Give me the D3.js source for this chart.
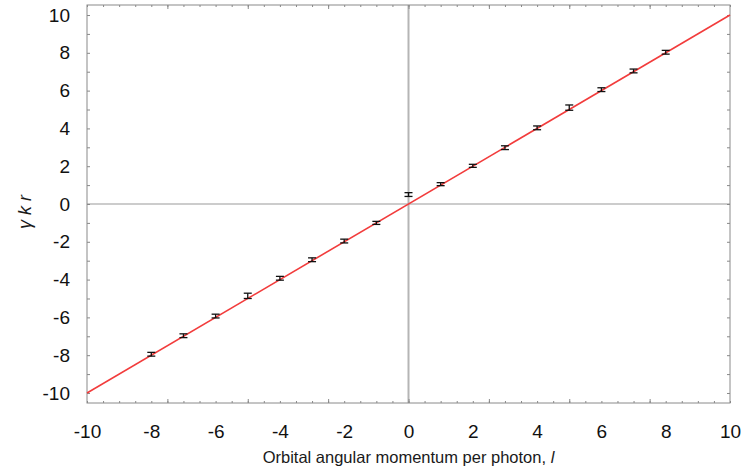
<!DOCTYPE html>
<html>
<head>
<meta charset="utf-8">
<script src="https://cdn.jsdelivr.net/npm/d3@7"></script>
<style>
  body { margin: 0; background: #fff; }
  svg { display: block; font-family: "Liberation Sans", Arial, sans-serif; }
  .lbl text { font-size: 19px; fill: #111; }
  .tk line { stroke: #888; }
  .tk path { stroke: none; }
</style>
</head>
<body>
<svg id="chart" width="741" height="473"></svg>
<script>
// orbital angular momentum per photon
const ell = [-8, -7, -6, -5, -4, -3, -2, -1, 0, 1, 2, 3, 4, 5, 6, 7, 8];
// measured gamma k r
const gkr = [-7.95, -6.97, -5.93, -4.86, -3.93, -2.95, -1.96, -1.0, 0.5, 1.05, 2.02, 2.98, 4.03, 5.1, 6.05, 7.04, 8.03];
const err = [0.1, 0.1, 0.1, 0.14, 0.1, 0.1, 0.1, 0.08, 0.1, 0.08, 0.08, 0.1, 0.1, 0.14, 0.1, 0.1, 0.1];
const tickLabels = [-10, -8, -6, -4, -2, 0, 2, 4, 6, 8, 10];
const fitRange = [-10, 10];

const svg = d3.select('#chart');
const plotL = 87, plotR = 730, plotT = 5, plotB = 403;

const x = d3.scaleLinear().domain([-10, 10]).range([plotL, plotR]);
const y = d3.scaleLinear().domain([-10.53, 10.53]).range([plotB, plotT]);

// zero lines
svg.append('line')
   .attr('x1', plotL).attr('x2', plotR)
   .attr('y1', y(0)).attr('y2', y(0))
   .attr('stroke', '#999').attr('stroke-width', 1);

svg.append('line')
   .attr('x1', x(0)).attr('x2', x(0))
   .attr('y1', plotT).attr('y2', plotB)
   .attr('stroke', '#b5b5b5').attr('stroke-width', 2);

// inward ticks, minor every 0.5, major every 2.5 on x
const minorX = d3.range(-10, 10.01, 0.5);
const majorX = d3.range(-7.5, 7.51, 2.5);
const yTicks = d3.range(-10, 10.01, 1);

function tickAxis(axis, tx, ty) {
    svg.append('g')
       .attr('class', 'tk')
       .attr('transform', `translate(${tx},${ty})`)
       .call(axis.tickFormat(''));
}

tickAxis(d3.axisBottom(x).tickValues(minorX).tickSize(-2), 0, plotB);
tickAxis(d3.axisBottom(x).tickValues(majorX).tickSize(-4), 0, plotB);
tickAxis(d3.axisTop(x).tickValues(minorX).tickSize(-2), 0, plotT);
tickAxis(d3.axisTop(x).tickValues(majorX).tickSize(-4), 0, plotT);
tickAxis(d3.axisLeft(y).tickValues(yTicks).tickSize(-3), plotL, 0);
tickAxis(d3.axisRight(y).tickValues(yTicks).tickSize(-3), plotR, 0);

// frame
svg.append('rect')
   .attr('x', plotL).attr('y', plotT)
   .attr('width', plotR - plotL).attr('height', plotB - plotT)
   .attr('fill', 'none').attr('stroke', '#8a8a8a').attr('stroke-width', 1);

// tick labels (plain hyphen minus, as in the original)
svg.append('g')
   .attr('class', 'lbl')
   .attr('transform', `translate(0,${plotB + 18})`)
   .call(d3.axisBottom(x).tickValues(tickLabels).tickSize(0).tickFormat(d => String(d)))
   .call(g => g.select('.domain').remove());

svg.append('g')
   .attr('class', 'lbl')
   .attr('transform', `translate(${plotL - 14},0)`)
   .call(d3.axisLeft(y).tickValues(tickLabels).tickSize(0).tickFormat(d => String(d)))
   .call(g => g.select('.domain').remove());

// fit line
svg.append('line')
   .attr('x1', x(fitRange[0])).attr('y1', y(fitRange[0]))
   .attr('x2', x(fitRange[1])).attr('y2', y(fitRange[1]))
   .attr('stroke', '#f23c3c').attr('stroke-width', 1.6);

// error bars
const pts = ell.map((l, i) => ({ l: l, v: gkr[i], e: err[i] }));
const eb = svg.append('g').attr('stroke', '#111').attr('stroke-width', 1.3);

eb.selectAll('.v')
  .data(pts)
  .join('line')
  .attr('x1', d => x(d.l)).attr('x2', d => x(d.l))
  .attr('y1', d => y(d.v - d.e)).attr('y2', d => y(d.v + d.e));

[1, -1].forEach(s => {
    eb.selectAll('.c' + s)
      .data(pts)
      .join('line')
      .attr('x1', d => x(d.l) - 4).attr('x2', d => x(d.l) + 4)
      .attr('y1', d => y(d.v + s * d.e)).attr('y2', d => y(d.v + s * d.e));
});

// axis titles
svg.append('text')
   .attr('x', x(0)).attr('y', 463)
   .attr('text-anchor', 'middle')
   .style('font-size', '16.5px').style('fill', '#1a1a1a')
   .html('Orbital angular momentum per photon, <tspan font-style="italic">l</tspan>');

svg.append('text')
   .attr('transform', `translate(31,${y(0) + 8}) rotate(-90)`)
   .attr('text-anchor', 'middle')
   .style('font-size', '18px').style('font-style', 'italic').style('fill', '#1a1a1a')
   .text('γ k r');
</script>
</body>
</html>
